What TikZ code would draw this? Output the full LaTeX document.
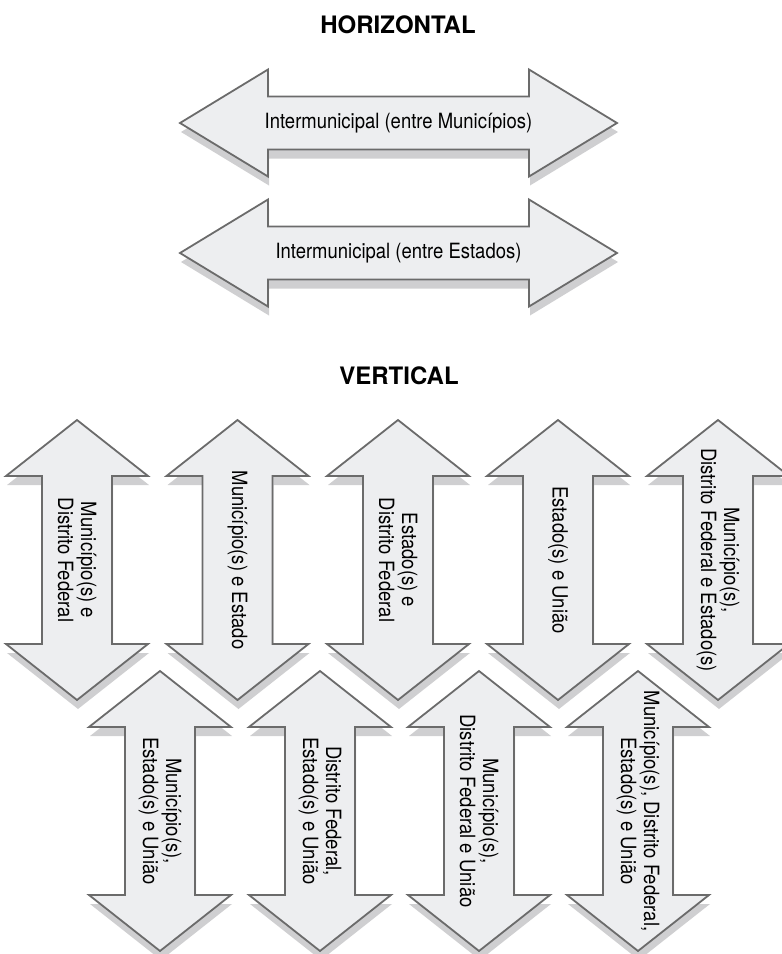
\documentclass[tikz,border=0pt]{standalone}
\usepackage{fontspec}
\setmainfont{TeX Gyre Heros}
\newfontfamily\arrowfont{TeX Gyre Heros}[FakeStretch=0.88]
\usetikzlibrary{calc}
\usetikzlibrary{shadows}
\definecolor{ArrowFill}{HTML}{EDEEF0}
\definecolor{ArrowLine}{HTML}{6B6B6B}
\definecolor{ArrowShade}{HTML}{CFCFD1}
\tikzset{
  arrowbody/.style={draw=ArrowLine,fill=ArrowFill,line width=1.8pt,line join=miter,
    drop shadow={shadow xshift=1pt,shadow yshift=-9pt,fill=ArrowShade,opacity=1}},
  arrowtext/.style={font=\arrowfont\fontsize{21}{23}\selectfont,align=center,inner sep=0pt},
  titletext/.style={font=\bfseries\fontsize{24}{28}\selectfont,inner sep=0pt}
}

\begin{document}
\begin{tikzpicture}[x=1pt,y=1pt]
  \useasboundingbox (0,0) rectangle (782,-954);

  \node[titletext] (Horizontal) at (398,-25) {HORIZONTAL};
  \node[titletext] (Vertical) at (399,-376) {VERTICAL};

  % horizontal arrows
  \foreach \cy/\nm/\txt in {-123/hmun/{Intermunicipal (entre Municípios)},%
                            -253/hest/{Intermunicipal (entre Estados)}}{%
    \draw[arrowbody,shift={(398.5,\cy)}] (-218.5,0) -- (-130.5,53.5)
      -- (-130.5,26.5) -- (130.5,26.5) -- (130.5,53.5) -- (218.5,0)
      -- (130.5,-53.5) -- (130.5,-26.5) -- (-130.5,-26.5) -- (-130.5,-53.5) -- cycle;
    \node[arrowtext] (\nm) at (398.5,\cy) {\txt};
  }

  % vertical arrows, top row then bottom row
  \foreach \cx/\cy/\nm/\txt in {77/-560/mdf/{Município(s) e\\Distrito Federal},%
                                237.5/-560/mest/{Município(s) e Estado},%
                                398/-560/edf/{Estado(s) e\\Distrito Federal},%
                                558/-560/eun/{Estado(s) e União},%
                                718/-560/mdfe/{Município(s),\\Distrito Federal e Estado(s)},%
                                160/-811/meu/{Município(s),\\Estado(s) e União},%
                                320/-811/dfeu/{Distrito Federal,\\Estado(s) e União},%
                                479/-811/mdfu/{Município(s),\\Distrito Federal e União},%
                                638/-811/mdfeu/{Município(s), Distrito Federal,\\Estado(s) e União}}{%
    \draw[arrowbody,shift={(\cx,\cy)}] (0,140) -- (71,84) -- (35,84) -- (35,-84)
      -- (71,-84) -- (0,-140) -- (-71,-84) -- (-35,-84) -- (-35,84) -- (-71,84) -- cycle;
    \node[arrowtext,rotate=-90] (\nm) at (\cx,\cy) {\txt};
  }
\end{tikzpicture}
\end{document}
